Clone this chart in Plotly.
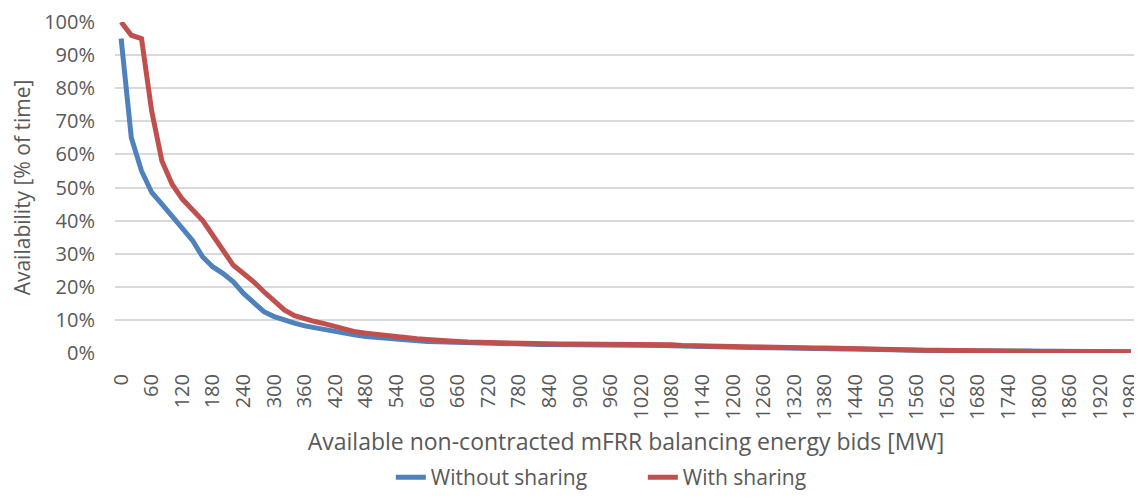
import plotly.graph_objects as go

# Available non-contracted mFRR balancing energy bids [MW] (step 20)
mw = list(range(0, 1981, 20))

without_sharing = [
    95.0, 65.0, 55.0, 48.5, 45.0, 41.5, 38.0, 34.0, 29.0, 26.0,   # 0-180
    24.0, 21.5, 18.0, 15.0, 12.5, 11.0, 9.9, 9.0, 8.2, 7.6,       # 200-380
    7.0, 6.4, 5.9, 5.4, 5.0, 4.7, 4.4, 4.1, 3.9, 3.6,             # 400-580
    3.5, 3.4, 3.3, 3.1, 3.0, 3.0, 3.0, 2.9, 2.8, 2.7,             # 600-780
    2.6, 2.6, 2.6, 2.6, 2.6, 2.6, 2.6, 2.6, 2.6, 2.6,             # 800-980
    2.5, 2.4, 2.4, 2.3, 2.2, 2.1, 2.1, 2.1, 2.0, 2.0,             # 1000-1180
    1.9, 1.8, 1.7, 1.6, 1.6, 1.5, 1.4, 1.4, 1.4, 1.3,             # 1200-1380
    1.3, 1.2, 1.2, 1.1, 1.1, 1.0, 1.0, 0.9, 0.8, 0.7,             # 1400-1580
    0.7, 0.7, 0.7, 0.7, 0.6, 0.6, 0.6, 0.5, 0.4, 0.4,             # 1600-1780
    0.4, 0.4, 0.4, 0.4, 0.4, 0.4, 0.4, 0.4, 0.4, 0.4,             # 1800-1980
]

with_sharing = [
    100.0, 96.0, 95.0, 73.0, 58.0, 51.0, 46.5, 43.0, 40.0, 35.5,  # 0-180
    31.0, 26.5, 24.0, 21.5, 18.5, 15.5, 13.0, 11.3, 10.3, 9.5,    # 200-380
    8.8, 8.0, 7.2, 6.4, 6.0, 5.6, 5.2, 4.9, 4.6, 4.3,             # 400-580
    4.1, 3.8, 3.6, 3.5, 3.3, 3.2, 3.1, 3.0, 3.0, 2.9,             # 600-780
    2.8, 2.8, 2.7, 2.7, 2.7, 2.7, 2.7, 2.7, 2.7, 2.7,             # 800-980
    2.7, 2.7, 2.7, 2.6, 2.5, 2.3, 2.3, 2.2, 2.2, 2.1,             # 1000-1180
    2.0, 1.9, 1.8, 1.8, 1.8, 1.7, 1.6, 1.6, 1.5, 1.5,             # 1200-1380
    1.4, 1.4, 1.3, 1.3, 1.2, 1.2, 1.1, 1.0, 0.9, 0.8,             # 1400-1580
    0.8, 0.8, 0.8, 0.8, 0.7, 0.7, 0.7, 0.7, 0.6, 0.5,             # 1600-1780
    0.4, 0.4, 0.4, 0.4, 0.4, 0.4, 0.4, 0.4, 0.4, 0.4,             # 1800-1980
]

tick_labels = list(range(0, 1981, 60))

series_names = ["Without sharing", "With sharing"]
series_colors = ["#4F81BD", "#C0504D"]

FONT = "Open Sans"
GREY = "#595959"

fig = go.Figure()
for name, vals, col in zip(series_names, [without_sharing, with_sharing], series_colors):
    fig.add_trace(go.Scatter(
        x=mw, y=[v / 100 for v in vals], name=name, mode="lines",
        line=dict(color=col, width=5, shape="linear"),
        cliponaxis=False,
    ))

# page has an 8px body margin, so the figure is sized to fit the window
fig.update_layout(
    width=1134, height=490,
    margin=dict(l=107, r=5, t=14, b=145),
    plot_bgcolor="white", paper_bgcolor="white",
    font=dict(family=FONT, color=GREY, size=20),
    showlegend=True,
    legend=dict(orientation="h", xref="container", yref="container",
                x=0.3376, xanchor="left", y=-0.03, yanchor="bottom",
                entrywidth=207, entrywidthmode="pixels",
                font=dict(size=21, color=GREY), bgcolor="rgba(0,0,0,0)",
                tracegroupgap=0),
)

fig.update_xaxes(
    range=[-12, 1992], automargin=False,
    tickmode="array", tickvals=tick_labels, ticktext=[str(t) for t in tick_labels],
    tickangle=-90, tickfont=dict(size=20, color=GREY), ticklabeloverflow="allow",
    showgrid=False, zeroline=False, showline=False,
    ticks="outside", ticklen=12, tickcolor="rgba(0,0,0,0)",
    title=dict(text="Available non-contracted mFRR balancing energy bids [MW]",
               font=dict(size=23, color=GREY), standoff=22),
)

fig.update_yaxes(
    range=[0, 1.0], dtick=0.1, tickformat=".0%", automargin=False,
    tickfont=dict(size=20, color=GREY),
    showgrid=True, gridcolor="#D9D9D9", gridwidth=1.5,
    zeroline=False, showline=False,
    ticks="outside", ticklen=15, tickcolor="rgba(0,0,0,0)",
    title=dict(text="Availability [% of time]", font=dict(size=21, color=GREY), standoff=7),
)

fig.write_html("out.html")
